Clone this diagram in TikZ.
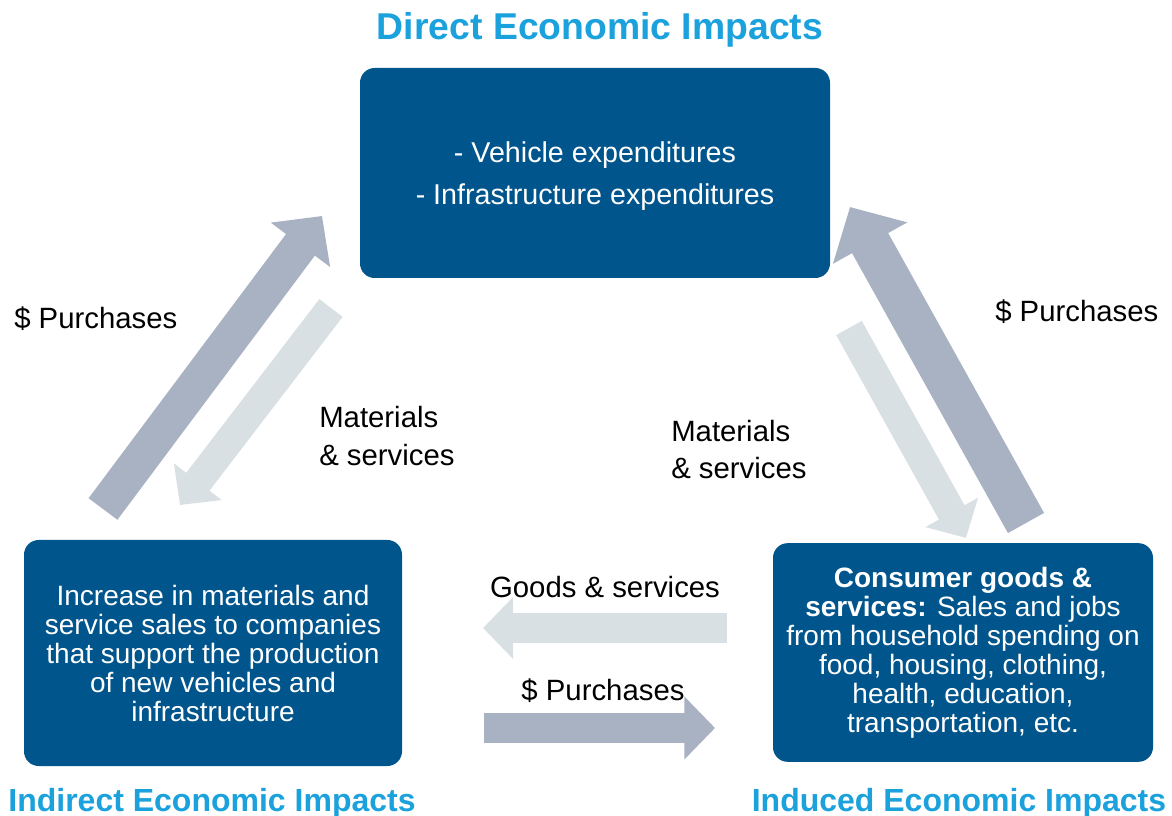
\documentclass[tikz,border=0pt]{standalone}
\usepackage{fontspec}
\setmainfont{Liberation Sans}
\usetikzlibrary{arrows.meta}
\usetikzlibrary{positioning}
\definecolor{boxblue}{HTML}{00558C}
\definecolor{titleblue}{HTML}{1BA1DC}
\definecolor{flowdark}{HTML}{A9B2C3}
\definecolor{flowlight}{HTML}{D9E0E4}

\begin{document}
\begin{tikzpicture}[
        x=0.75pt, y=-0.75pt,
        impact/.style={rectangle, fill=boxblue, text=white,
          rounded corners=11pt, align=center, inner sep=0pt,
          font=\fontsize{21}{21.75}\selectfont},
        heading/.style={text=titleblue, font=\bfseries\fontsize{24}{28}\selectfont},
        flowlabel/.style={align=left, inner sep=0pt,
          font=\fontsize{22}{29}\selectfont},
        flow/.style={line width=#1, line cap=butt,
          -{Triangle[length=0pt 1, width=0pt 2]}},
        dollarflow/.style={flow=#1, draw=flowdark},
        goodsflow/.style={flow=#1, draw=flowlight},
      ]
        \useasboundingbox (0,0) rectangle (1172,816);

        % boxes
        \node[impact, minimum width=352.5pt, minimum height=157.5pt,
          text height=52pt, font=\fontsize{21.5}{31.5}\selectfont]
          (direct) at (595,173)
          {- Vehicle expenditures\\- Infrastructure expenditures};
        \node[impact, minimum width=283.5pt, minimum height=169.5pt]
          (indirect) at (213,653)
          {Increase in materials and\\service sales to companies\\that support the production\\of new vehicles and\\infrastructure};
        \node[impact, minimum width=285pt, minimum height=164pt]
          (induced) at (963,652.5)
          {\textbf{Consumer goods \&}\\\textbf{services:} Sales and jobs\\from household spending on\\food, housing, clothing,\\health, education,\\transportation, etc.};

        % headings
        \node[heading, font=\bfseries\fontsize{28}{32}\selectfont]
          (directtitle) at (600,30) {Direct Economic Impacts};
        \node[heading] (indirecttitle) at (212,803) {Indirect Economic Impacts};
        \node[heading] (inducedtitle) at (959,803) {Induced Economic Impacts};

        % flow ends
        \coordinate (lbuyfrom) at (103,509);
        \coordinate (lbuyto) at (322,216);
        \coordinate (lmatfrom) at (331,308);
        \coordinate (lmatto) at (180,505);
        \coordinate (rbuyfrom) at (1026,523);
        \coordinate (rbuyto) at (850,207);
        \coordinate (rmatfrom) at (849,328);
        \coordinate (rmatto) at (966,538);
        \coordinate (goodsfrom) at (727,628);
        \coordinate (goodsto) at (483,628);
        \coordinate (buyfrom) at (484,728);
        \coordinate (buyto) at (715,728);

        \draw[dollarflow=27pt] (lbuyfrom) -- (lbuyto);
        \draw[goodsflow=22pt] (lmatfrom) -- (lmatto);
        \draw[dollarflow=31pt] (rbuyfrom) -- (rbuyto);
        \draw[goodsflow=22pt] (rmatfrom) -- (rmatto);
        \draw[goodsflow=22.5pt] (goodsfrom) -- (goodsto);
        \draw[dollarflow=23pt] (buyfrom) -- (buyto);

        % labels
        \node[flowlabel, anchor=west] (lbuy) at (14,319) {\$ Purchases};
        \node[flowlabel, anchor=west] (lmat) at (319,436) {Materials\\\& services};
        \node[flowlabel, anchor=west] (rbuy) at (995,312) {\$ Purchases};
        \node[flowlabel, anchor=west, font=\fontsize{22}{27.75}\selectfont]
          (rmat) at (671,450) {Materials\\\& services};
        \node[flowlabel] (goods) at (605,587) {Goods \& services};
        \node[flowlabel] (buy) at (603,691) {\$ Purchases};
      \end{tikzpicture}
\end{document}
